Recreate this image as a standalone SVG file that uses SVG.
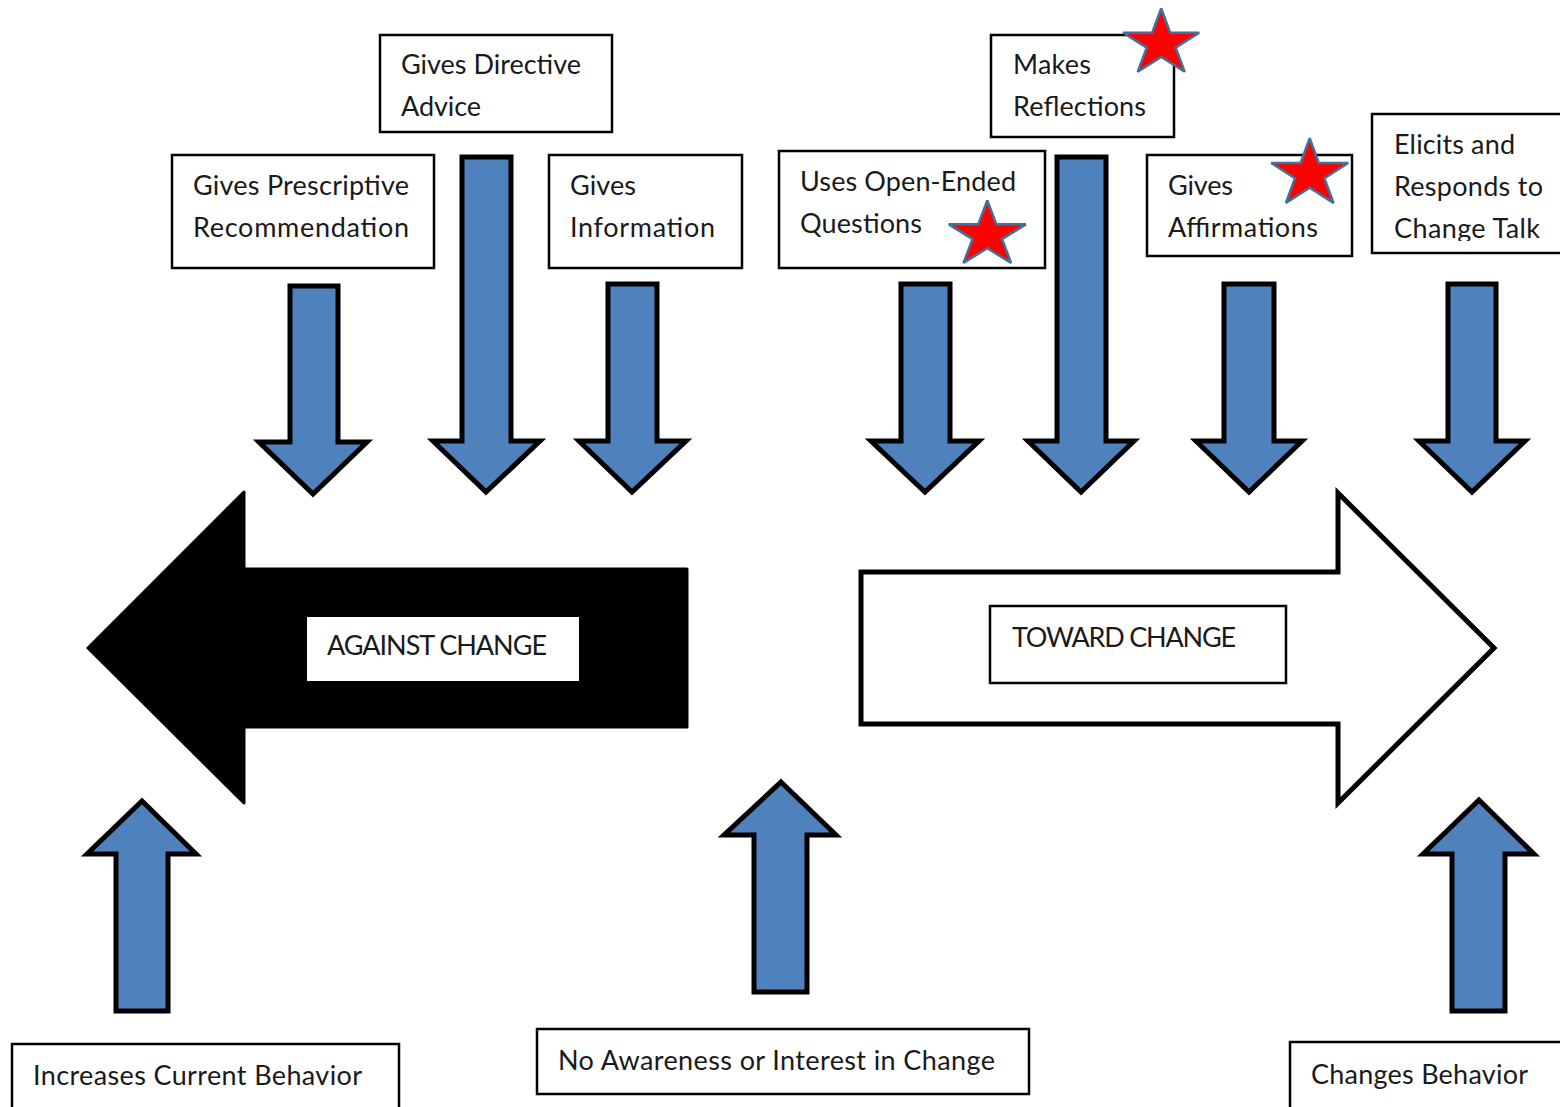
<svg xmlns="http://www.w3.org/2000/svg" xmlns:xlink="http://www.w3.org/1999/xlink" width="1560" height="1107" viewBox="0 0 1560 1107">
<style>
.box{fill:#fff;stroke:#000;stroke-width:2.5}
.t{font-family:Lato,"Open Sans","Liberation Sans",sans-serif;font-size:27px;fill:#1a1a1a}
.blue{fill:#4F81BD;stroke:#000;stroke-width:5;stroke-linejoin:miter}
.star{fill:#FF0000;stroke:#41719C;stroke-width:2.5;stroke-linejoin:miter;stroke-miterlimit:2}
</style>
<defs>
<path id="starshape" d="M0,-1 L0.2245,-0.309 L0.951,-0.309 L0.363,0.118 L0.588,0.809 L0,0.382 L-0.588,0.809 L-0.363,0.118 L-0.951,-0.309 L-0.2245,-0.309 Z" vector-effect="non-scaling-stroke"/>
<clipPath id="clipElicits"><rect x="1372" y="114" width="200" height="127"/></clipPath>
</defs>
<rect width="1560" height="1107" fill="#fff"/>

<g id="against-change">
<path d="M88,648 L244,492 L244,569 L687,569 L687,727 L244,727 L244,803 Z" fill="#000" stroke="#000" stroke-width="3" stroke-linejoin="round"/>
<rect x="307" y="617" width="272" height="64" fill="#fff"/>
<text class="t" x="327" y="655" textLength="220">AGAINST CHANGE</text>
</g>

<g id="toward-change">
<path d="M861,572 L1338,572 L1338,493 L1494,648 L1338,803 L1338,724 L861,724 Z" fill="#fff" stroke="#000" stroke-width="5" stroke-linejoin="miter"/>
<rect class="box" x="990" y="606" width="296" height="77" stroke-width="2"/>
<text class="t" x="1012" y="647" textLength="224">TOWARD CHANGE</text>
</g>

<g id="connectors">
<path class="blue" d="M290,286 L338,286 L338,442 L367,442 L313,494 L259,442 L290,442 Z"/>
<path class="blue" d="M462,157 L511,157 L511,441 L540,441 L486,492 L433,441 L462,441 Z"/>
<path class="blue" d="M608,284 L657,284 L657,441 L686,441 L632,492 L579,441 L608,441 Z"/>
<path class="blue" d="M901,284 L950,284 L950,441 L979,441 L925,492 L871,441 L901,441 Z"/>
<path class="blue" d="M1057,157 L1106,157 L1106,441 L1134,441 L1081,492 L1028,441 L1057,441 Z"/>
<path class="blue" d="M1224,284 L1274,284 L1274,441 L1302,441 L1249,492 L1196,441 L1224,441 Z"/>
<path class="blue" d="M1448,284 L1496,284 L1496,441 L1525,441 L1472,492 L1419,441 L1448,441 Z"/>
<path class="blue" d="M142,801 L196,854 L168,854 L168,1011 L116,1011 L116,854 L87,854 Z"/>
<path class="blue" d="M781,782 L836,835 L807,835 L807,992 L754,992 L754,835 L724,835 Z"/>
<path class="blue" d="M1479,800 L1534,854 L1505,854 L1505,1011 L1452,1011 L1452,854 L1423,854 Z"/>
</g>

<g id="gives-prescriptive-recommendation">
<rect class="box" x="172" y="155" width="262" height="113"/>
<text class="t" x="193" y="195" textLength="216">Gives Prescriptive</text>
<text class="t" x="193" y="237" textLength="216">Recommendation</text>
</g>

<g id="gives-directive-advice">
<rect class="box" x="380" y="35" width="232" height="97"/>
<text class="t" x="401" y="74" textLength="180">Gives Directive</text>
<text class="t" x="401" y="116" textLength="80">Advice</text>
</g>

<g id="gives-information">
<rect class="box" x="549" y="155" width="193" height="113"/>
<text class="t" x="570" y="195" textLength="66">Gives</text>
<text class="t" x="570" y="237" textLength="145">Information</text>
</g>

<g id="uses-open-ended-questions">
<rect class="box" x="779" y="151" width="266" height="117"/>
<text class="t" x="800" y="191" textLength="216">Uses Open-Ended</text>
<text class="t" x="800" y="233" textLength="122">Questions</text>
<use xlink:href="#starshape" href="#starshape" class="star" transform="translate(987.3,235) scale(40.5,34.5)"/>
</g>

<g id="makes-reflections">
<rect class="box" x="991" y="35" width="183" height="102"/>
<text class="t" x="1013" y="74" textLength="78">Makes</text>
<text class="t" x="1013" y="116" textLength="133">Reflections</text>
<use xlink:href="#starshape" href="#starshape" class="star" transform="translate(1161.2,43.5) scale(40,35)"/>
</g>

<g id="gives-affirmations">
<rect class="box" x="1147" y="155" width="205" height="101"/>
<text class="t" x="1168" y="195" textLength="65">Gives</text>
<text class="t" x="1168" y="237" textLength="150">Affirmations</text>
<use xlink:href="#starshape" href="#starshape" class="star" transform="translate(1309.7,174) scale(40.5,35.8)"/>
</g>

<g id="elicits-and-responds">
<rect class="box" x="1372" y="114" width="200" height="139"/>
<g clip-path="url(#clipElicits)">
<text class="t" x="1394" y="154" textLength="121">Elicits and</text>
<text class="t" x="1394" y="196" textLength="149">Responds to</text>
<text class="t" x="1394" y="238" textLength="146">Change Talk</text>
</g>
</g>

<g id="increases-current-behavior">
<rect class="box" x="12" y="1044" width="387" height="80" stroke-width="2"/>
<text class="t" x="33" y="1085" textLength="329">Increases Current Behavior</text>
</g>

<g id="no-awareness">
<rect class="box" x="537" y="1029" width="492" height="65" stroke-width="2"/>
<text class="t" x="558" y="1070" textLength="437">No Awareness or Interest in Change</text>
</g>

<g id="changes-behavior">
<rect class="box" x="1290" y="1042" width="290" height="80" stroke-width="2"/>
<text class="t" x="1311" y="1084" textLength="217">Changes Behavior</text>
</g>
</svg>
